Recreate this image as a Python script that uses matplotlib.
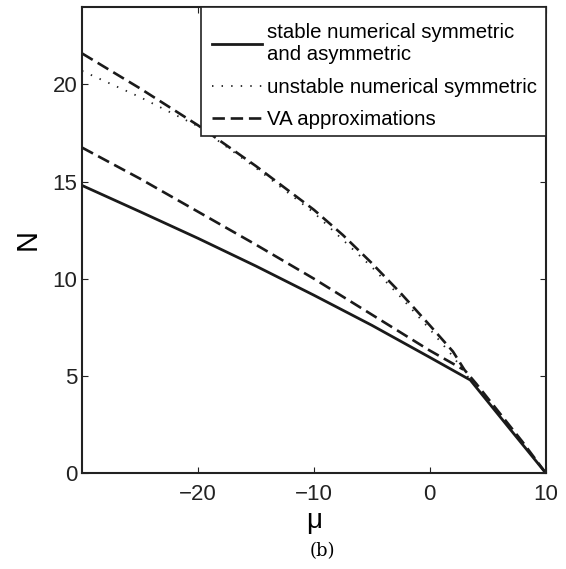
import matplotlib.pyplot as plt
import numpy as np
import matplotlib
from matplotlib.patches import Rectangle

matplotlib.rcParams['font.family'] = ['Liberation Sans', 'DejaVu Sans']

# stable branch: asymmetric part up to the bifurcation, then symmetric down to mu=10
mu_stable = [-30, -25, -20, -15, -10, -5, 0, 3.5, 7, 10]
N_stable = [14.8, 13.45, 12.08, 10.65, 9.15, 7.6, 5.95, 4.78, 2.2, 0]

# unstable symmetric branch
mu_unstable = [-30, -25, -20, -15, -10, -5, -2.5, 0, 2, 3.5]
N_unstable = [20.7, 19.35, 17.85, 15.7, 13.4, 10.6, 9.05, 7.4, 6.0, 4.78]

# variational approximation, symmetric
mu_va_sym = [-30, -25, -20, -15, -10, -7.5, -5, -2.5, 0, 2, 3, 4, 6, 8, 10]
N_va_sym = [21.6, 19.8, 17.9, 15.8, 13.55, 12.25, 10.8, 9.25, 7.6, 6.25, 5.3, 4.6, 3.1, 1.6, 0]

# variational approximation, asymmetric
mu_va_asym = [-30, -25, -20, -15, -10, -5, 0, 2.9]
N_va_asym = [16.75, 15.15, 13.45, 11.75, 10.0, 8.15, 6.3, 5.32]

fig = plt.figure(figsize=(5.66, 5.69), dpi=100)
ax = fig.add_axes([0.145, 0.169, 0.819, 0.819])

dash = (4.7, 2.2)
ax.plot(mu_stable, N_stable, '-', color='#1a1a1a', lw=2, label='stable numerical symmetric\nand asymmetric')
ax.plot(mu_unstable, N_unstable, color='#222222', lw=1.3, dashes=(0.8, 4.5),
        label='unstable numerical symmetric')
ax.plot(mu_va_sym, N_va_sym, color='#1a1a1a', lw=1.9, dashes=dash, label='VA approximations')
ax.plot(mu_va_asym, N_va_asym, color='#1a1a1a', lw=1.9, dashes=dash)

ax.set_xlim(-30, 10)
ax.set_ylim(0, 24)
ax.set_xticks([-20, -10, 0, 10])
ax.set_yticks([0, 5, 10, 15, 20])
ax.tick_params(direction='in', top=True, right=True, length=4, width=0.8,
               labelsize=16, colors='#222222')
ax.tick_params(axis='x', pad=8)
for s in ax.spines.values():
    s.set_linewidth(1.5)
    s.set_color('#222222')

ax.set_xlabel('μ', fontsize=20, labelpad=2)
ax.set_ylabel('N', fontsize=21, labelpad=8)

# legend box drawn by hand, flush with the top right corner
box = Rectangle((0.2567, 0.722), 0.7433, 0.278, transform=ax.transAxes,
                facecolor='white', edgecolor='#222222', lw=1.2, zorder=4)
ax.add_patch(box)

leg = ax.legend(loc='upper left', bbox_to_anchor=(0.2798, 0.966), borderaxespad=0,
                fontsize=14.7, handlelength=2.45, handletextpad=0.25,
                labelspacing=0.66, borderpad=0, frameon=False)
leg.set_zorder(5)
for t in leg.get_texts():
    t.set_linespacing(1.25)

fig.text(0.57, 0.022, '(b)', family='DejaVu Serif', fontsize=13, ha='center')

fig.savefig('out.png', dpi=100)
